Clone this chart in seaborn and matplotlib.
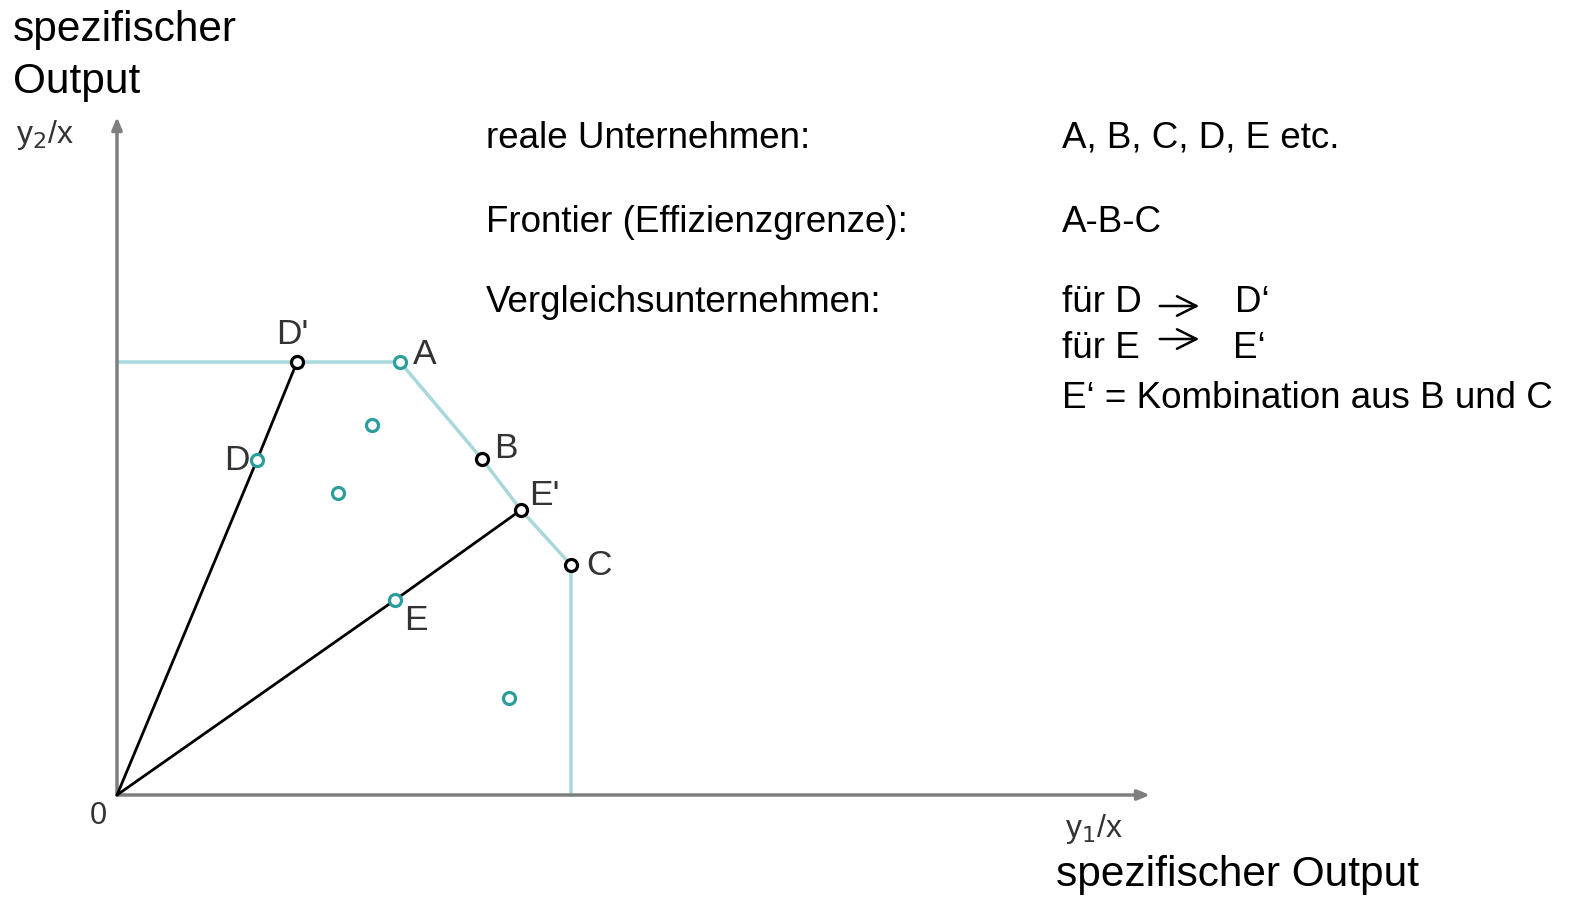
import matplotlib
matplotlib.use("Agg")
import matplotlib.pyplot as plt
import seaborn as sns
import pandas as pd

sns.set_theme(style="white")
plt.rcParams['font.family'] = ['Liberation Sans', 'DejaVu Sans']
plt.rcParams['text.color'] = 'black'

# ---- data (chart units) ----
frontier_x = [0.0, 28.3, 36.5, 40.4, 45.4, 45.4]
frontier_y = [43.3, 43.3, 33.6, 28.5, 23.0, 0.0]
ray_d_x = [0.0, 14.0, 18.0]
ray_d_y = [0.0, 33.5, 43.3]
ray_e_x = [0.0, 27.8, 40.4]
ray_e_y = [0.0, 19.5, 28.5]
real_names = ["A", "D", "E", "", "", ""]
real_x = [28.3, 14.0, 27.8, 25.5, 22.1, 39.2]
real_y = [43.3, 33.5, 19.5, 37.0, 30.2, 9.7]
ref_names = ["D'", "B", "E'", "C"]
ref_x = [18.0, 36.5, 40.4, 45.4]
ref_y = [43.3, 33.6, 28.5, 23.0]
x_axis_end = 103.3
y_axis_end = 67.8

W, H = 1570, 897
fig = plt.figure(figsize=(W / 100, H / 100), dpi=100)
ax = fig.add_axes([0, 0, 1, 1])
ax.set_xlim(-11.7, (W - 117) / 10)
ax.set_ylim(-(H - 795) / 10, 79.5)
ax.axis("off")

def px(x, y):
    return x / W, 1 - y / H

teal = "#2a9d9d"
light = "#a9d8db"
axis_c = "#7f7f7f"

# axes arrows
ax.annotate("", xy=(x_axis_end, 0), xytext=(0, 0),
            arrowprops=dict(arrowstyle="-|>,head_length=0.6,head_width=0.25", color=axis_c, lw=2.5, shrinkA=0, shrinkB=0))
ax.annotate("", xy=(0, y_axis_end), xytext=(0, 0),
            arrowprops=dict(arrowstyle="-|>,head_length=0.6,head_width=0.25", color=axis_c, lw=2.5, shrinkA=0, shrinkB=0))

fr = pd.DataFrame({"x": frontier_x, "y": frontier_y})
sns.lineplot(data=fr, x="x", y="y", sort=False, estimator=None, color=light, lw=2.5, ax=ax, zorder=2)
sns.lineplot(data=pd.DataFrame({"x": ray_d_x, "y": ray_d_y}), x="x", y="y", sort=False, estimator=None,
             color="black", lw=2, ax=ax, zorder=3)
sns.lineplot(data=pd.DataFrame({"x": ray_e_x, "y": ray_e_y}), x="x", y="y", sort=False, estimator=None,
             color="black", lw=2, ax=ax, zorder=3)

sns.scatterplot(data=pd.DataFrame({"x": real_x, "y": real_y}), x="x", y="y", marker="o", s=75,
                facecolor="white", edgecolor=teal, linewidth=2.3, ax=ax, zorder=5)
sns.scatterplot(data=pd.DataFrame({"x": ref_x, "y": ref_y}), x="x", y="y", marker="o", s=75,
                facecolor="white", edgecolor="black", linewidth=2.3, ax=ax, zorder=5)

lab_c = "#333333"
lab_fs = 25.5
offsets = {"A": (1.3, 0.8, "left", "center"), "D": (-0.7, 0.0, "right", "center"), "E": (0.9, -2.0, "left", "center"),
           "D'": (-0.5, 2.8, "center", "center"), "B": (1.2, 1.1, "left", "center"), "E'": (0.8, 1.5, "left", "center"),
           "C": (1.5, 0.0, "left", "center")}
for n, x, y in list(zip(real_names, real_x, real_y)) + list(zip(ref_names, ref_x, ref_y)):
    if not n:
        continue
    dx, dy, ha, va = offsets[n]
    ax.text(x + dx, y + dy, n, fontsize=lab_fs, color=lab_c, ha=ha, va=va)

big = 30.5
txt = 26.5
fig.text(*px(13, 30), "spezifischer", fontsize=big, va="center", ha="left")
fig.text(*px(13, 82), "Output", fontsize=big, va="center", ha="left")
fig.text(*px(1056, 875), "spezifischer Output", fontsize=big, va="center", ha="left")
fig.text(*px(16, 135), "y$_2$/x", fontsize=23, va="center", ha="left", color="#333333")
fig.text(*px(1065, 829), "y$_1$/x", fontsize=23, va="center", ha="left", color="#333333")
fig.text(*px(98, 816), "0", fontsize=22, va="center", ha="center", color="#333333")

fig.text(*px(486, 138), "reale Unternehmen:", fontsize=txt, va="center")
fig.text(*px(1062, 138), "A, B, C, D, E etc.", fontsize=txt, va="center")
fig.text(*px(486, 223), "Frontier (Effizienzgrenze):", fontsize=txt, va="center")
fig.text(*px(1062, 223), "A-B-C", fontsize=txt, va="center")
fig.text(*px(486, 303), "Vergleichsunternehmen:", fontsize=txt, va="center")
fig.text(*px(1062, 303), "für D", fontsize=txt, va="center")
fig.text(*px(1235, 303), "D‘", fontsize=txt, va="center")
fig.text(*px(1062, 348), "für E", fontsize=txt, va="center")
fig.text(*px(1233, 348), "E‘", fontsize=txt, va="center")
fig.text(*px(1062, 399), "E‘ = Kombination aus B und C", fontsize=txt, va="center")
for yy in (306, 339):
    fig.add_artist(matplotlib.patches.FancyArrowPatch(px(1157, yy), px(1202, yy), transform=fig.transFigure,
                   arrowstyle="->,head_length=0.7,head_width=0.35", color="black", lw=1.8, mutation_scale=20))

fig.savefig("out.png", dpi=100)
